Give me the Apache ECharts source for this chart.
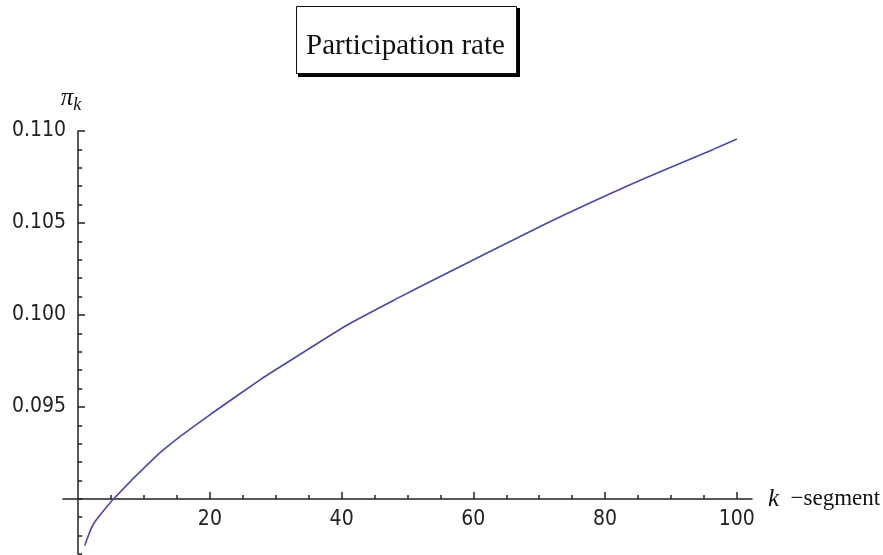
<!DOCTYPE html>
<html>
<head>
<meta charset="utf-8">
<script src="https://cdn.jsdelivr.net/npm/echarts@6/dist/echarts.min.js"></script>
<style>
html,body{margin:0;padding:0;background:#fff;}
#chart{width:883px;height:555px;}
</style>
</head>
<body>
<div id="chart"></div>
<script>
// ---- data ----
var kValues  = [1, 2.3, 5.4, 11.7, 15.5, 20, 27.6, 30.7, 40.8, 48.9, 53.4, 70.6, 84.3, 96.4, 100];
var piValues = [0.08746, 0.08862, 0.0900, 0.09227, 0.09339, 0.09457, 0.09647, 0.09718, 0.09944, 0.10098, 0.10180, 0.10489, 0.10716, 0.10900, 0.10957];
var xMajorTicks = [20, 40, 60, 80, 100];
var xMinorTicks = [5, 10, 15, 25, 30, 35, 45, 50, 55, 65, 70, 75, 85, 90, 95];
var yMajorTicks = [0.095, 0.100, 0.105, 0.110];
var yMinorTicks = [0.087, 0.088, 0.089, 0.090, 0.091, 0.092, 0.093, 0.094, 0.096, 0.097, 0.098, 0.099,
                   0.101, 0.102, 0.103, 0.104, 0.106, 0.107, 0.108, 0.109];
var titleText = 'Participation rate';

var seriesData = kValues.map(function (k, i) { return [k, piValues[i]]; });

var X_MIN = -2.3, X_MAX = 102.3, Y_MIN = 0.087, Y_MAX = 0.110;
var axisColor = '#222';
var tickFont = '"Liberation Sans Narrow", "DejaVu Sans Condensed", "Liberation Sans", sans-serif';
var serif = '"Liberation Serif", "DejaVu Serif", serif';

var chart = echarts.init(document.getElementById('chart'), null, {renderer: 'canvas'});
chart.setOption({
  animation: false,
  backgroundColor: '#fff',
  graphic: [{
    type: 'rect', left: 298, top: 8, z: 1,
    shape: {width: 222, height: 69},
    style: {fill: '#000'}
  }],
  title: {
    text: titleText,
    left: 296, top: 6, z: 10,
    padding: [24, 12, 11, 10],
    backgroundColor: '#fff',
    borderColor: '#111',
    borderWidth: 1,
    textStyle: {fontFamily: serif, fontSize: 29, fontWeight: 'normal', color: '#111', lineHeight: 33}
  },
  grid: {left: 63, right: 131, top: 131, bottom: 1, containLabel: false, outerBoundsMode: 'none'},
  xAxis: [{
    type: 'value', min: X_MIN, max: X_MAX, position: 'bottom', offset: -55,
    name: '{k|k}{s|  \u2212segment}', nameLocation: 'end', nameGap: 16,
    nameTextStyle: {
      rich: {
        k: {fontFamily: serif, fontStyle: 'italic', fontSize: 25, color: '#111'},
        s: {fontFamily: serif, fontSize: 23, color: '#111'}
      }
    },
    axisLine: {onZero: false, lineStyle: {color: axisColor, width: 1.5}},
    axisTick: {show: true, inside: true, length: 7, customValues: xMajorTicks, lineStyle: {color: axisColor, width: 1.5}},
    axisLabel: {show: true, customValues: xMajorTicks, margin: 10, fontFamily: tickFont, fontSize: 21, color: '#222'},
    splitLine: {show: false}
  }, {
    type: 'value', min: X_MIN, max: X_MAX, position: 'bottom', offset: -55,
    axisLine: {show: false},
    axisTick: {show: true, inside: true, length: 4, customValues: xMinorTicks, lineStyle: {color: axisColor, width: 1.5}},
    axisLabel: {show: false},
    splitLine: {show: false}
  }],
  yAxis: [{
    type: 'value', min: Y_MIN, max: Y_MAX, position: 'left', offset: -15,
    name: '{p|\u03c0}{k|k}', nameLocation: 'end', nameGap: 17,
    nameTextStyle: {
      padding: [0, 14, 0, 0],
      rich: {
        p: {fontFamily: serif, fontStyle: 'italic', fontSize: 25, color: '#111'},
        k: {fontFamily: serif, fontStyle: 'italic', fontSize: 18, color: '#111', padding: [14, 0, 0, 0]}
      }
    },
    axisLine: {onZero: false, lineStyle: {color: axisColor, width: 1.5}},
    axisTick: {show: true, inside: true, length: 7, customValues: yMajorTicks, lineStyle: {color: axisColor, width: 1.5}},
    axisLabel: {show: true, customValues: yMajorTicks, margin: 12, fontFamily: tickFont, fontSize: 21, color: '#222',
      formatter: function (v) { return v.toFixed(3); }},
    splitLine: {show: false}
  }, {
    type: 'value', min: Y_MIN, max: Y_MAX, position: 'left', offset: -15,
    axisLine: {show: false},
    axisTick: {show: true, inside: true, length: 4, customValues: yMinorTicks, lineStyle: {color: axisColor, width: 1.5}},
    axisLabel: {show: false},
    splitLine: {show: false}
  }],
  series: [{
    type: 'line',
    xAxisIndex: 0, yAxisIndex: 0,
    data: seriesData,
    smooth: 0.2,
    showSymbol: false,
    lineStyle: {color: '#4848aa', width: 1.6},
    z: 5
  }]
});
</script>
</body>
</html>
